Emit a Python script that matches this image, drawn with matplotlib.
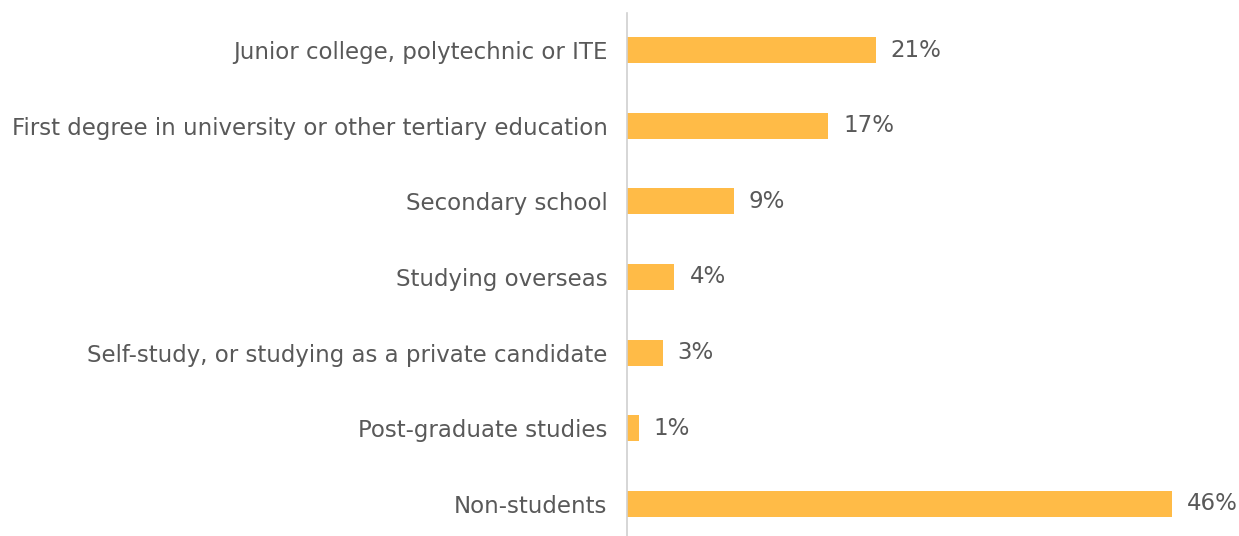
import matplotlib
matplotlib.use("Agg")
import matplotlib.pyplot as plt

categories = [
    "Junior college, polytechnic or ITE",
    "First degree in university or other tertiary education",
    "Secondary school",
    "Studying overseas",
    "Self-study, or studying as a private candidate",
    "Post-graduate studies",
    "Non-students",
]
values = [21, 17, 9, 4, 3, 1, 46]
value_labels = ["21%", "17%", "9%", "4%", "3%", "1%", "46%"]

W, H, DPI = 1239, 536, 100
fig = plt.figure(figsize=(W / DPI, H / DPI), dpi=DPI)
ax_left, ax_right = 627, 1239
ax_top, ax_bottom = 13, 536
ax = fig.add_axes([ax_left / W, 1 - ax_bottom / H, (ax_right - ax_left) / W, (ax_bottom - ax_top) / H])

font = "DejaVu Sans"
text_color = "#595959"
bar_color = "#FFBB47"

# fit font size so the longest label spans ~595 px like the reference
renderer = fig.canvas.get_renderer()
probe = fig.text(0, 0, categories[1], fontsize=10, family=font)
w10 = probe.get_window_extent(renderer).width
probe.remove()
fs = 10 * 595 / w10

y = list(range(len(categories)))
ax.barh(y, values, height=0.345, color=bar_color)
ax.set_xlim(0, (ax_right - ax_left) / 11.85)
ax.set_ylim(6.423, -0.489)

for yi, v, lab in zip(y, values, value_labels):
    ax.annotate(lab, (v, yi), xytext=(15 * 72 / DPI, 0), textcoords="offset points",
                va="center", ha="left", fontsize=fs, color=text_color, family=font)

ax.set_yticks(y)
ax.set_yticklabels(categories, fontsize=fs, color=text_color, family=font)
ax.tick_params(axis="y", length=0, pad=14)
ax.set_xticks([])
for s in ["top", "right", "bottom"]:
    ax.spines[s].set_visible(False)
ax.spines["left"].set_color("#D0D0D0")
ax.spines["left"].set_linewidth(1.2)

fig.savefig("out.png", dpi=DPI)
